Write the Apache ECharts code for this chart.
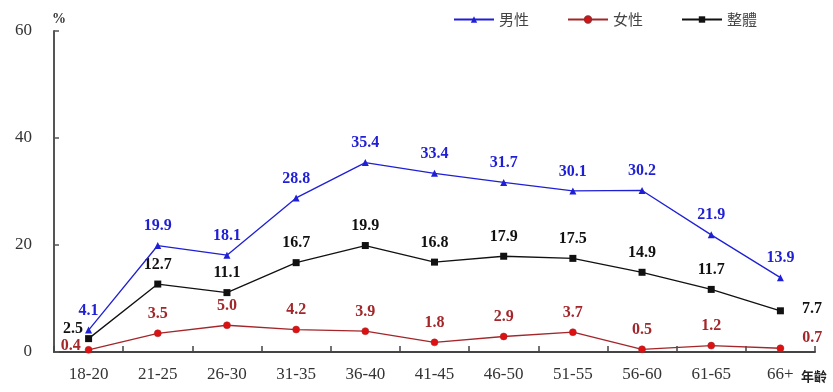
<!DOCTYPE html>
<html>
<head>
<meta charset="utf-8">
<script src="https://cdn.jsdelivr.net/npm/echarts@6/dist/echarts.min.js"></script>
<style>
  html, body { margin: 0; padding: 0; background: #fff; }
  #chart { width: 833px; height: 392px; }
</style>
</head>
<body>
<div id="chart"></div>
<script>
// Age groups and participation shares (%)
const ageGroups = ['18-20', '21-25', '26-30', '31-35', '36-40', '41-45', '46-50', '51-55', '56-60', '61-65', '66+'];
const maleValues = [4.1, 19.9, 18.1, 28.8, 35.4, 33.4, 31.7, 30.1, 30.2, 21.9, 13.9];
const femaleValues = [0.4, 3.5, 5.0, 4.2, 3.9, 1.8, 2.9, 3.7, 0.5, 1.2, 0.7];
const totalValues = [2.5, 12.7, 11.1, 16.7, 19.9, 16.8, 17.9, 17.5, 14.9, 11.7, 7.7];
const yTicks = [0, 20, 40, 60];

const serif = '"Liberation Serif", "DejaVu Serif", serif';
const cBlue = '#1f1fd6';
const cRed = '#a3262a';
const cBlack = '#111111';

function labelBase(color) {
  return {
    show: true,
    position: 'top',
    distance: 8,
    color: color,
    fontFamily: serif,
    fontWeight: 'bold',
    fontSize: 16,
    formatter: p => p.value.toFixed(1)
  };
}

// Per-point label tweaks where lines crowd together
function withLabels(values, overrides) {
  return values.map((v, i) => overrides[i] ? { value: v, label: overrides[i] } : v);
}

const maleData = withLabels(maleValues, {});
const femaleData = withLabels(femaleValues, {
  0: { position: 'left', distance: 4, offset: [0, -4] },
  10: { position: 'right', distance: 18, offset: [0, -10] }
});
const totalData = withLabels(totalValues, {
  0: { position: 'left', distance: 2, offset: [0, -10] },
  10: { position: 'right', distance: 18, offset: [0, -2] }
});

const chart = echarts.init(document.getElementById('chart'));
chart.setOption({
  animation: false,
  backgroundColor: '#ffffff',
  grid: { left: 54, right: 18, top: 31, bottom: 40, containLabel: false },
  legend: {
    top: 7,
    left: 448,
    itemWidth: 40,
    itemHeight: 8,
    itemGap: 38,
    textStyle: { fontFamily: '"Noto Sans CJK TC", sans-serif', fontSize: 15, color: '#444' },
    data: ['男性', '女性', '整體']
  },
  xAxis: {
    type: 'category',
    data: ageGroups,
    boundaryGap: true,
    axisLine: { lineStyle: { color: '#444', width: 2 } },
    axisTick: { show: true, inside: true, length: 6, lineStyle: { color: '#444', width: 1.5 } },
    axisLabel: { margin: 14, fontFamily: serif, fontSize: 17, color: '#333' }
  },
  yAxis: {
    type: 'value',
    min: 0,
    max: 60,
    interval: 20,
    name: '%',
    nameLocation: 'end',
    nameGap: 5,
    nameTextStyle: { fontFamily: serif, fontWeight: 'bold', fontSize: 14, color: '#333', align: 'left', padding: [0, 0, 0, -2] },
    splitLine: { show: false },
    axisLine: { show: true, lineStyle: { color: '#555', width: 2 } },
    axisTick: { show: true, inside: true, length: 5, lineStyle: { color: '#555', width: 1.5 } },
    axisLabel: {
      margin: 22,
      fontFamily: serif,
      fontSize: 17,
      color: '#333',
      formatter: v => (yTicks.includes(v) ? String(v) : '')
    }
  },
  graphic: [{
    type: 'text',
    right: 6,
    top: 370,
    style: { text: '年齡', font: 'bold 13px "Noto Sans CJK TC", sans-serif', fill: '#222' }
  }],
  series: [
    {
      name: '男性',
      type: 'line',
      data: maleData,
      symbol: 'triangle',
      symbolSize: 7,
      lineStyle: { color: cBlue, width: 1.3 },
      itemStyle: { color: cBlue },
      label: labelBase(cBlue),
      z: 3
    },
    {
      name: '女性',
      type: 'line',
      data: femaleData,
      symbol: 'circle',
      symbolSize: 7,
      lineStyle: { color: cRed, width: 1.3 },
      itemStyle: { color: '#dd1111', borderColor: cRed, borderWidth: 0.5 },
      label: labelBase(cRed),
      z: 2
    },
    {
      name: '整體',
      type: 'line',
      data: totalData,
      symbol: 'rect',
      symbolSize: 7,
      lineStyle: { color: cBlack, width: 1.3 },
      itemStyle: { color: cBlack },
      label: labelBase(cBlack),
      z: 2
    }
  ]
});
</script>
</body>
</html>
